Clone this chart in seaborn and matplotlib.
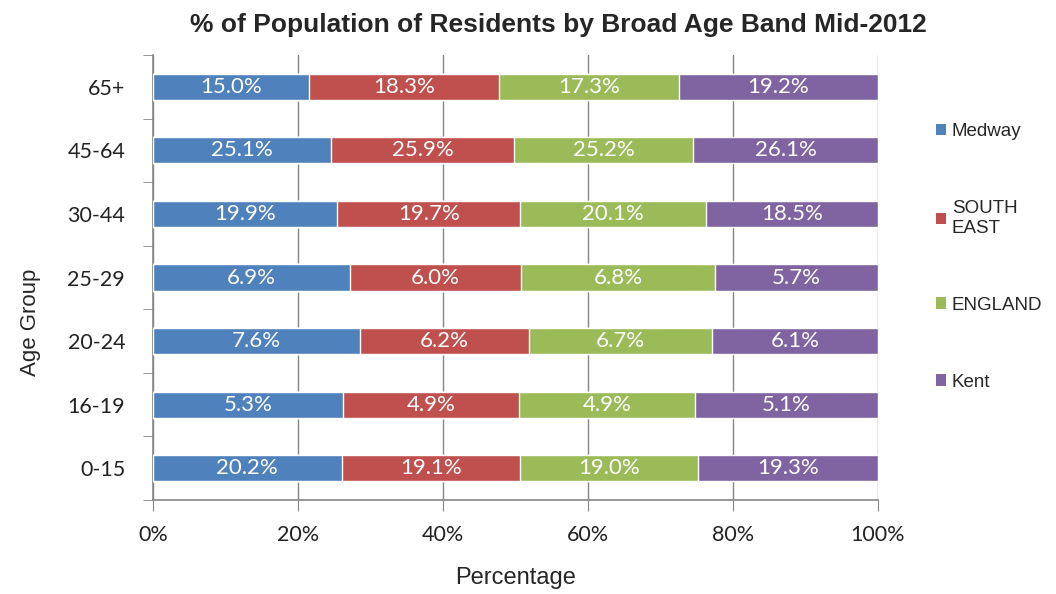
import numpy as np
import pandas as pd
import matplotlib
matplotlib.use("Agg")
import matplotlib.pyplot as plt
import seaborn as sns
from matplotlib.patches import Patch

age_groups = ["65+", "45-64", "30-44", "25-29", "20-24", "16-19", "0-15"]
regions = ["Medway", "SOUTH\nEAST", "ENGLAND", "Kent"]
medway = [15.0, 25.1, 19.9, 6.9, 7.6, 5.3, 20.2]
south_east = [18.3, 25.9, 19.7, 6.0, 6.2, 4.9, 19.1]
england = [17.3, 25.2, 20.1, 6.8, 6.7, 4.9, 19.0]
kent = [19.2, 26.1, 18.5, 5.7, 6.1, 5.1, 19.3]
colors = ["#4F81BD", "#C0504D", "#9BBB59", "#8064A2"]

sns.set_style("white")
plt.rcParams["font.family"] = ["Lato", "DejaVu Sans"]

vals = np.array([medway, south_east, england, kent])
shares = vals / vals.sum(axis=0) * 100
cum = shares.cumsum(axis=0)

fig = plt.figure(figsize=(10.56, 5.94), dpi=100)
ax = fig.add_axes([153 / 1056, 1 - 500 / 594, 725 / 1056, 445 / 594])

# draw cumulative totals from the back so the bars look stacked
for i in range(3, -1, -1):
    df = pd.DataFrame({"age": age_groups, "pct": cum[i]})
    sns.barplot(data=df, x="pct", y="age", order=age_groups, color=colors[i],
                saturation=1, width=0.41, ax=ax, zorder=3)

for i in range(4):
    for j, age in enumerate(age_groups):
        center = cum[i][j] - shares[i][j] / 2
        ax.text(center, j, f"{vals[i][j]:.1f}%", color="white", ha="center",
                va="center", fontsize=16, zorder=4)

ax.set_xlim(0, 100)
ax.set_ylim(6.5, -0.5)
ax.set_xticks(np.arange(0, 101, 20))
ax.set_xticklabels([f"{v}%" for v in range(0, 101, 20)], fontsize=15.5, color="#222222")
ax.tick_params(axis="x", length=8, color="#868686", pad=10, direction="out", bottom=True)
ax.grid(axis="x", color="#868686", linewidth=1, zorder=0)
ax.set_axisbelow(True)

ax.set_yticks(range(len(age_groups)))
ax.set_yticklabels(age_groups, fontsize=15.5, color="#222222")
ax.set_yticks(np.arange(-0.5, 7, 1), minor=True)
ax.tick_params(axis="y", which="major", length=0, pad=20)
ax.tick_params(axis="y", which="minor", length=7, color="#868686", left=True)

for side in ["top", "right"]:
    ax.spines[side].set_visible(False)
for side in ["left", "bottom"]:
    ax.spines[side].set_color("#868686")
    ax.spines[side].set_linewidth(1.2)

ax.set_xlabel("Percentage", fontsize=17, family="Liberation Sans", labelpad=16)
ax.set_ylabel("Age Group", fontsize=16, family="Liberation Sans")
ax.yaxis.set_label_coords(-0.155, 0.4)

fig.text(558 / 1056, 1 - 25 / 594, "% of Population of Residents by Broad Age Band Mid-2012",
         ha="center", va="center", fontsize=19, fontweight="bold", family="Liberation Sans")

handles = [Patch(facecolor=c, edgecolor="none") for c in colors]
fig.legend(handles, regions, loc="upper left", bbox_to_anchor=(936 / 1056, 1 - 123 / 594),
           frameon=False, prop={"family": "Liberation Sans", "size": 13.5},
           handlelength=0.55, handleheight=0.55, handletextpad=0.3, labelspacing=3.2,
           borderpad=0, borderaxespad=0)

fig.savefig("out.png", dpi=100)
